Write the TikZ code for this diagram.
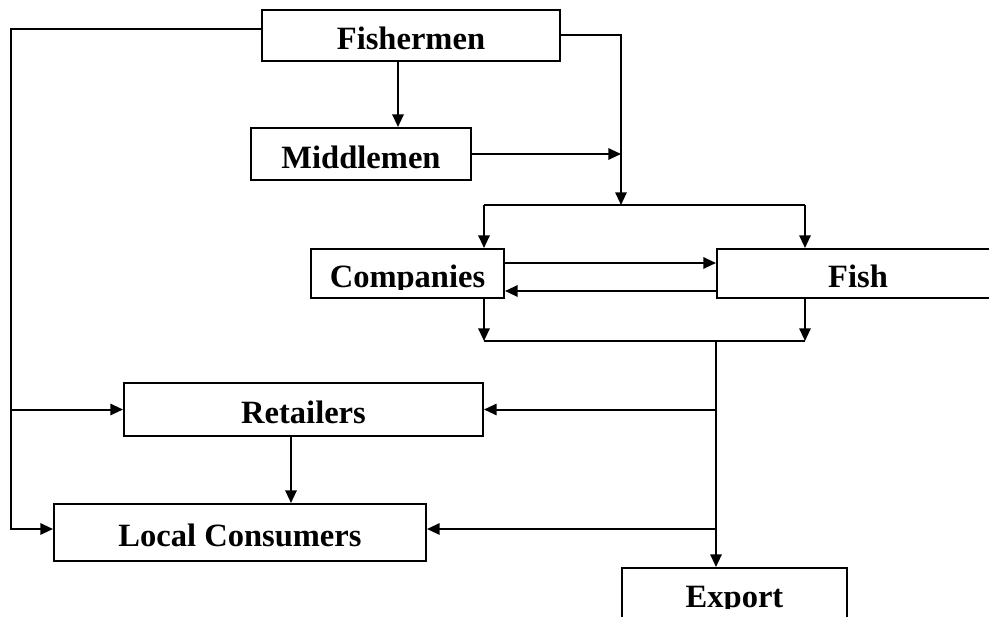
\documentclass[tikz,border=0pt]{standalone}
\usepackage{fontspec}
\setmainfont{Liberation Serif}
\usepackage{trimclip}
\usetikzlibrary{arrows.meta}

\tikzset{every picture/.style={line width=1.5pt}}
\tikzset{
  flowbox/.style={draw, rectangle, inner sep=0pt, text height=21pt, text depth=0pt,
    font=\bfseries\fontsize{24.4}{28}\selectfont},
  flowarrow/.style={-{Triangle[length=9.5pt,width=8.5pt]}},
}
% descenders cut off as in the text boxes of the original
\newcommand{\cutdesc}[1]{\clipbox{0pt 4pt 0pt 0pt}{#1}}

\begin{document}
\begin{tikzpicture}[x=0.75pt,y=0.75pt,yscale=-1,xscale=1]
\useasboundingbox (0,0) rectangle (989,617);

%Shape: Rectangle
\node[flowbox, minimum width=223.5pt, minimum height=38.25pt] (fisher) at (411,35.5) {Fishermen};
%Shape: Rectangle
\node[flowbox, minimum width=165pt, minimum height=39pt] (midmen) at (361,154) {Middlemen};
%Shape: Rectangle
\node[flowbox, minimum width=144.75pt, minimum height=36.75pt] (comp) at (407.5,273.5) {\cutdesc{Companies}};
%Shape: Rectangle
\node[flowbox, minimum width=211.5pt, minimum height=36.75pt] (fish) at (858,273.5) {Fish};
%Shape: Rectangle
\node[flowbox, minimum width=269.25pt, minimum height=39.75pt] (retail) at (303.5,409.5) {Retailers};
%Shape: Rectangle
\node[flowbox, minimum width=279pt, minimum height=42.75pt] (local) at (240,532.5) {Local Consumers};
%Shape: Rectangle
\node[flowbox, minimum width=168.75pt, minimum height=37.5pt] (export) at (734.5,593) {\cutdesc{Export}};

% bends and junctions of the lines
\coordinate (lt) at (11,29);
\coordinate (lb) at (11,529);
\coordinate (tbus) at (621,205);
\coordinate (tl) at (484,205);
\coordinate (tr) at (805,205);
\coordinate (bl) at (484,341);
\coordinate (br) at (805,341);
\coordinate (trunk) at (716,341);
\coordinate (cf) at (0,263);
\coordinate (fc) at (0,291);
\coordinate (fm) at (398,0);
\coordinate (rl) at (291,0);

%Straight Lines
\draw[flowarrow] (fisher.west |- lt) -- (lt) -- (lb) -- (lb -| local.west);
\draw[flowarrow] (lt |- retail.west) -- (retail.west);
%Straight Lines
\draw[flowarrow] (fisher.south -| fm) -- (midmen.north -| fm);
\draw[flowarrow] (fisher.east) -| (tbus);
\draw[flowarrow] (midmen.east) -- (midmen.east -| tbus);
%Straight Lines
\draw (tl) -- (tr);
\draw[flowarrow] (tl) -- (tl |- comp.north);
\draw[flowarrow] (tr) -- (tr |- fish.north);
\draw[flowarrow] (comp.east |- cf) -- (fish.west |- cf);
\draw[flowarrow] (fish.west |- fc) -- (comp.east |- fc);
%Straight Lines
\draw[flowarrow] (comp.south -| bl) -- (bl);
\draw[flowarrow] (fish.south -| br) -- (br);
\draw (bl) -- (br);
\draw[flowarrow] (trunk) -- (trunk |- export.north);
\draw[flowarrow] (trunk |- retail.east) -- (retail.east);
\draw[flowarrow] (trunk |- lb) -- (lb -| local.east);
%Straight Lines
\draw[flowarrow] (retail.south -| rl) -- (local.north -| rl);
\end{tikzpicture}
\end{document}
